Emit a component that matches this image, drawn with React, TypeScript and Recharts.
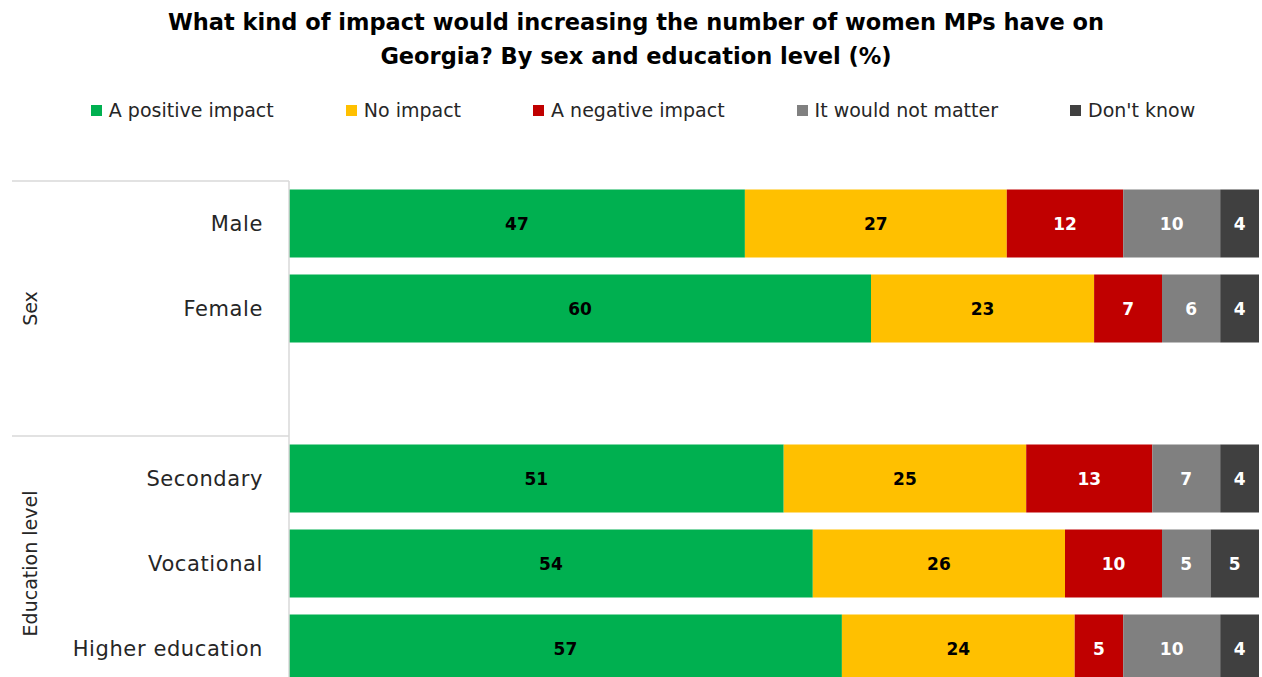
import React from "react";
import { Bar, BarChart, LabelList, Legend, XAxis, YAxis } from "recharts";

const categories = ["Male", "Female", "", "Secondary", "Vocational", "Higher education"];
const positive = [47, 60, null, 51, 54, 57];
const noImpact = [27, 23, null, 25, 26, 24];
const negative = [12, 7, null, 13, 10, 5];
const notMatter = [10, 6, null, 7, 5, 10];
const dontKnow = [4, 4, null, 4, 5, 4];

const groups = [
  { name: "Sex", first: "Male", span: 3 },
  { name: "Education level", first: "Secondary", span: 3 },
];

const series = [
  { key: "positive", name: "A positive impact", color: "#00B050", text: "#000000" },
  { key: "noImpact", name: "No impact", color: "#FFC000", text: "#000000" },
  { key: "negative", name: "A negative impact", color: "#C00000", text: "#ffffff" },
  { key: "notMatter", name: "It would not matter", color: "#808080", text: "#ffffff" },
  { key: "dontKnow", name: "Don't know", color: "#404040", text: "#ffffff" },
];

const data = categories.map((name, i) => ({
  name,
  positive: positive[i],
  noImpact: noImpact[i],
  negative: negative[i],
  notMatter: notMatter[i],
  dontKnow: dontKnow[i],
}));

const FONT = "'DejaVu Sans', Verdana, sans-serif";
const TICK_GAP = 26;

function GroupTick(props: any) {
  const { x, y, payload } = props;
  const half = payload && typeof payload.offset === "number" && payload.offset > 0 ? payload.offset : 42.5;
  const group = groups.find((g) => g.first === payload.value);
  const axisX = x + TICK_GAP;
  return (
    <g>
      <text
        x={x}
        y={y}
        dy="0.35em"
        textAnchor="end"
        fontSize={21}
        letterSpacing={0.6}
        fontFamily={FONT}
        fill="#262626"
      >
        {payload.value}
      </text>
      {group && (
        <g>
          <line x1={12} x2={axisX} y1={y - half} y2={y - half} stroke="#d9d9d9" strokeWidth={1.5} />
          <text
            transform={`translate(30, ${y - half + group.span * half}) rotate(-90)`}
            textAnchor="middle"
            dy="0.35em"
            fontSize={19}
            fontFamily={FONT}
            fill="#262626"
          >
            {group.name}
          </text>
        </g>
      )}
    </g>
  );
}

function LegendContent() {
  return (
    <div
      style={{
        display: "flex",
        justifyContent: "center",
        gap: 72,
        fontFamily: FONT,
        fontSize: 19,
        color: "#262626",
        paddingLeft: 24,
      }}
    >
      {series.map((s) => (
        <div key={s.key} style={{ display: "flex", alignItems: "center" }}>
          <span
            style={{ width: 11, height: 11, background: s.color, display: "inline-block", marginRight: 7 }}
          />
          <span>{s.name}</span>
        </div>
      ))}
    </div>
  );
}

export default function App() {
  return (
    <div style={{ position: "absolute", left: 0, top: 0, width: 1262, height: 700, background: "#fff" }}>
      <div
        style={{
          position: "absolute",
          top: 5,
          left: 0,
          width: 1272,
          textAlign: "center",
          fontFamily: FONT,
          fontWeight: "bold",
          fontSize: 22.5,
          lineHeight: "34px",
          color: "#000",
        }}
      >
        What kind of impact would increasing the number of women MPs have on
        <br />
        Georgia? By sex and education level (%)
      </div>
      <BarChart
        width={1262}
        height={700}
        data={data}
        layout="vertical"
        margin={{ top: 181, right: 3, bottom: 9, left: 0 }}
        barCategoryGap="10%"
      >
        <XAxis type="number" domain={[0, 100]} hide />
        <YAxis
          type="category"
          dataKey="name"
          width={289}
          axisLine={{ stroke: "#d9d9d9", strokeWidth: 1.5 }}
          tickLine={false}
          tickSize={0}
          tickMargin={TICK_GAP}
          tick={<GroupTick />}
          interval={0}
        />
        <Legend
          layout="horizontal"
          verticalAlign="middle"
          align="center"
          wrapperStyle={{ top: 99, left: 0, width: 1262 }}
          content={<LegendContent />}
        />
        {series.map((s) => (
          <Bar key={s.key} dataKey={s.key} name={s.name} stackId="a" fill={s.color} isAnimationActive={false}>
            <LabelList
              dataKey={s.key}
              position="center"
              fill={s.text}
              fontSize={17}
              fontWeight="bold"
              fontFamily={FONT}
            />
          </Bar>
        ))}
      </BarChart>
    </div>
  );
}
